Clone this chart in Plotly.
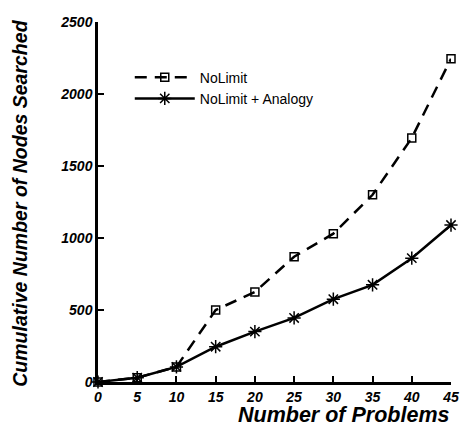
import plotly.graph_objects as go

problems = [0, 5, 10, 15, 20, 25, 30, 35, 40, 45]
nolimit = [0, 30, 105, 500, 625, 870, 1030, 1300, 1695, 2245]
nolimit_analogy = [0, 30, 105, 245, 350, 445, 575, 675, 860, 1090]
x_ticks = [0, 5, 10, 15, 20, 25, 30, 35, 40, 45]
y_ticks = [0, 500, 1000, 1500, 2000, 2500]

fig = go.Figure()
fig.add_trace(go.Scatter(
    x=problems, y=nolimit, name="NoLimit", mode="lines+markers",
    line=dict(color="black", width=2.5, dash="12px,8px"),
    marker=dict(symbol="square-open", size=8, color="black", line=dict(width=1.5, color="black")),
    cliponaxis=False,
))
fig.add_trace(go.Scatter(
    x=problems, y=nolimit_analogy, name="NoLimit + Analogy", mode="lines+markers",
    line=dict(color="black", width=2.5),
    marker=dict(symbol="asterisk-open", size=11, color="black", line=dict(width=1.5, color="black")),
    cliponaxis=False,
))

tickfont = dict(family="Liberation Sans", size=14, color="black")
fig.update_layout(
    width=471, height=432,
    margin=dict(l=98, r=13, t=22, b=50),
    paper_bgcolor="white", plot_bgcolor="white",
    font=dict(family="Liberation Sans", color="black"),
    showlegend=True,
    legend=dict(x=0.09, y=0.89, xanchor="left", yanchor="top",
                font=dict(size=14, family="Liberation Sans", color="black"),
                bgcolor="rgba(0,0,0,0)", tracegroupgap=0, itemwidth=60),
    xaxis=dict(range=[0, 45], tickvals=x_ticks, ticktext=[f"<b><i>{v}</i></b>" for v in x_ticks],
               ticks="inside", ticklen=6, tickwidth=2, tickcolor="black",
               showline=True, linecolor="black", linewidth=2.5, showgrid=False, zeroline=False,
               tickfont=tickfont),
    yaxis=dict(range=[0, 2500], tickvals=y_ticks, ticktext=[f"<b><i>{v}</i></b>" for v in y_ticks],
               ticks="inside", ticklen=6, tickwidth=2, tickcolor="black",
               showline=True, linecolor="black", linewidth=2.5, showgrid=False, zeroline=False,
               tickfont=tickfont),
    annotations=[
        dict(text="<b><i>Number of Problems</i></b>", xref="paper", yref="paper", x=1.0, y=-0.092,
             xanchor="right", yanchor="middle", showarrow=False,
             font=dict(size=21.5, family="Liberation Sans", color="black")),
        dict(text="<b><i>Cumulative Number of Nodes Searched</i></b>", xref="paper", yref="paper",
             x=-0.222, y=0.497, xanchor="center", yanchor="middle", textangle=-90, showarrow=False,
             font=dict(size=19.5, family="Liberation Sans", color="black")),
    ],
)
fig.write_html("out.html", config={"displayModeBar": False},
               post_script="document.body.style.margin='0';document.body.style.overflow='hidden';")
